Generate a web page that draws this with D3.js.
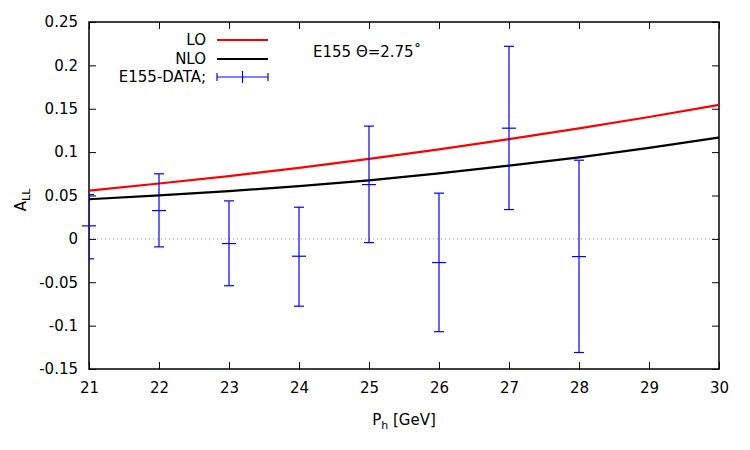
<!DOCTYPE html>
<html><head><meta charset="utf-8">
<script src="https://cdn.jsdelivr.net/npm/d3@7"></script>
<style>body{margin:0;background:#fff}svg{font-family:"DejaVu Sans",sans-serif}</style>
</head><body>
<svg id="c" width="750" height="450"></svg>
<script>
const xTicks = [21,22,23,24,25,26,27,28,29,30];
const yTicks = [-0.15,-0.1,-0.05,0,0.05,0.1,0.15,0.2,0.25];
const yTickLabels = ["-0.15","-0.1","-0.05","0","0.05","0.1","0.15","0.2","0.25"];
const curveX = [21,22,23,24,25,26,27,28,29,30];
const loValues = [0.0557,0.0638,0.0724,0.0818,0.0922,0.1032,0.1150,0.1274,0.1405,0.1545];
const nloValues = [0.0457,0.0502,0.0551,0.0607,0.0675,0.0755,0.0845,0.0940,0.1050,0.1168];
const dataX = [21,22,23,24,25,26,27,28];
const dataY = [0.015,0.0326,-0.0054,-0.0200,0.0626,-0.0273,0.1276,-0.0204];
const dataLow = [-0.023,-0.0092,-0.054,-0.0776,-0.0043,-0.107,0.0338,-0.131];
const dataHigh = [0.051,0.075,0.0438,0.0365,0.130,0.0527,0.222,0.0907];

const svg = d3.select("#c");
const L=89,R=719,T=22,B=369;
const x = d3.scaleLinear().domain([21,30]).range([L,R]);
const y = d3.scaleLinear().domain([-0.15,0.25]).range([B,T]);

svg.append("line").attr("x1",L).attr("x2",R).attr("y1",y(0)).attr("y2",y(0))
  .attr("stroke","#999").attr("stroke-width",1).attr("stroke-dasharray","1,3");

const tl=7;
const fmt = d => yTickLabels[yTicks.indexOf(d)];
const gL = svg.append("g").attr("transform",`translate(${L},0)`)
  .call(d3.axisLeft(y).tickValues(yTicks).tickSize(-tl).tickPadding(11).tickFormat(fmt));
const gR = svg.append("g").attr("transform",`translate(${R},0)`)
  .call(d3.axisRight(y).tickValues(yTicks).tickSize(-tl).tickFormat(""));
const gB = svg.append("g").attr("transform",`translate(0,${B})`)
  .call(d3.axisBottom(x).tickValues(xTicks).tickSize(-tl).tickPadding(13).tickFormat(d3.format("d")));
const gT = svg.append("g").attr("transform",`translate(0,${T})`)
  .call(d3.axisTop(x).tickValues(xTicks).tickSize(-tl).tickFormat(""));
[gL,gR,gB,gT].forEach(g=>{
  g.select(".domain").remove();
  g.selectAll(".tick line").attr("stroke","#000");
  g.selectAll("text").attr("font-size",15).attr("fill","#000").attr("font-family","DejaVu Sans");
});
svg.append("rect").attr("x",L).attr("y",T).attr("width",R-L).attr("height",B-T)
  .attr("fill","none").attr("stroke","#000").attr("stroke-width",1.5);

svg.append("clipPath").attr("id","cl").append("rect")
  .attr("x",L).attr("y",T).attr("width",R-L).attr("height",B-T);
const line = d3.line().x((d,i)=>x(curveX[i])).y(d=>y(d)).curve(d3.curveMonotoneX);
svg.append("path").datum(loValues).attr("d",line).attr("fill","none").attr("stroke","#ff0000").attr("stroke-width",2.2);
svg.append("path").datum(nloValues).attr("d",line).attr("fill","none").attr("stroke","#000").attr("stroke-width",2.2);

const gd = svg.append("g").attr("stroke","#0000ff").attr("stroke-width",1.2);
const gc = gd.append("g").attr("clip-path","url(#cl)");
dataX.forEach((xv,i)=>{
  const px=x(xv);
  gc.append("line").attr("x1",px).attr("x2",px).attr("y1",y(dataLow[i])).attr("y2",y(dataHigh[i]));
  gc.append("line").attr("x1",px-5).attr("x2",px+5).attr("y1",y(dataLow[i])).attr("y2",y(dataLow[i]));
  gc.append("line").attr("x1",px-5).attr("x2",px+5).attr("y1",y(dataHigh[i])).attr("y2",y(dataHigh[i]));
  gd.append("line").attr("x1",px-7).attr("x2",px+7).attr("y1",y(dataY[i])).attr("y2",y(dataY[i]));
});

const lg = svg.append("g").attr("font-size",15).attr("fill","#000");
const lx=206, ls=217, le=268;
[["LO",40,"#ff0000"],["NLO",59,"#000"]].forEach(([t,yy,c])=>{
  lg.append("text").attr("x",lx).attr("y",yy+5).attr("text-anchor","end").text(t);
  lg.append("line").attr("x1",ls).attr("x2",le).attr("y1",yy).attr("y2",yy).attr("stroke",c).attr("stroke-width",2.2);
});
lg.append("text").attr("x",lx).attr("y",77+5).attr("text-anchor","end").text("E155-DATA;");
const ly=77;
const lgb = lg.append("g").attr("stroke","#0000ff").attr("stroke-width",1.2);
lgb.append("line").attr("x1",ls).attr("x2",le).attr("y1",ly).attr("y2",ly);
lgb.append("line").attr("x1",ls).attr("x2",ls).attr("y1",ly-4).attr("y2",ly+4);
lgb.append("line").attr("x1",le).attr("x2",le).attr("y1",ly-4).attr("y2",ly+4);
lgb.append("line").attr("x1",(ls+le)/2).attr("x2",(ls+le)/2).attr("y1",ly-6).attr("y2",ly+6);

svg.append("text").attr("x",313).attr("y",57).attr("font-size",15).attr("fill","#000").text("E155 Θ=2.75˚");

const yl = svg.append("text").attr("transform","translate(26,200) rotate(-90)").attr("text-anchor","middle").attr("font-size",15).attr("fill","#000");
yl.append("tspan").text("A");
yl.append("tspan").attr("font-size",11).attr("dy",4).text("LL");
const xl = svg.append("text").attr("x",404).attr("y",425).attr("text-anchor","middle").attr("font-size",15).attr("fill","#000");
xl.append("tspan").text("P");
xl.append("tspan").attr("font-size",11).attr("dy",4).text("h");
xl.append("tspan").attr("dy",-4).text(" [GeV]");
</script>
</body></html>
